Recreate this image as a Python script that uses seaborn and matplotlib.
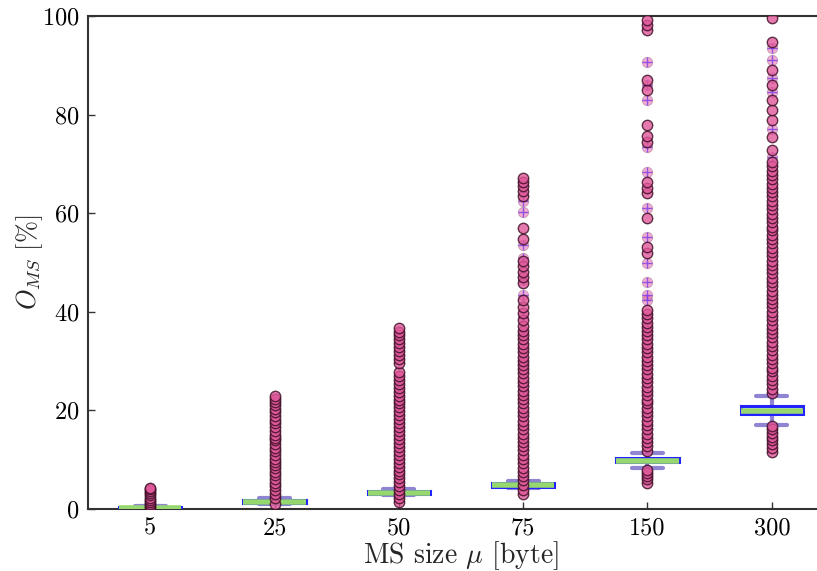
import matplotlib
matplotlib.use("Agg")
import matplotlib.pyplot as plt
import seaborn as sns
import pandas as pd

# ---------------- data ----------------
sizes = ["5", "25", "50", "75", "150", "300"]

# box statistics per size: lower whisker, Q1, median, Q3, upper whisker
box_5 = [0.05, 0.2, 0.3, 0.45, 0.6]
box_25 = [1.0, 1.3, 1.5, 1.8, 2.2]
box_50 = [2.8, 3.0, 3.2, 3.6, 4.0]
box_75 = [4.3, 4.5, 4.8, 5.3, 5.7]
box_150 = [8.3, 9.5, 9.8, 10.4, 11.4]
box_300 = [17.0, 19.2, 19.9, 20.9, 23.0]

# outliers, solid markers
fl_5 = [0.2, 0.6, 1.0, 1.5, 1.9, 2.3, 2.8, 3.2, 3.6, 4.0, 4.3]
fl_25 = [1.0, 2.3, 3.0, 3.9, 4.6, 5.3, 6.0, 6.8, 7.5, 8.3, 9.0, 9.5, 10.2,
         11.0, 11.8, 12.4, 13.2, 14.0, 14.4, 15.1, 15.9, 16.6, 17.4, 18.1,
         18.9, 19.6, 20.3, 21.0, 21.7, 22.3, 22.9]
fl_50 = [1.5, 2.2, 3.0, 3.8, 4.6, 5.4, 6.2, 7.0, 7.8, 8.6, 9.4, 10.2, 11.0,
         11.8, 12.6, 13.4, 14.2, 15.0, 15.8, 16.6, 17.4, 18.2, 19.0, 19.8,
         20.6, 21.4, 22.2, 23.0, 23.8, 24.6, 25.4, 26.2, 27.0, 27.8, 29.6,
         30.4, 31.2, 32.0, 32.8, 33.6, 34.4, 35.2, 36.0, 36.7]
fl_75 = [3.0, 3.9, 4.8, 5.8, 6.7, 7.5, 8.4, 9.3, 10.1, 11.0, 11.9, 12.7,
         13.6, 14.5, 15.3, 16.2, 17.1, 17.9, 18.8, 19.7, 20.5, 21.4, 22.3,
         23.1, 24.0, 24.9, 25.7, 26.6, 27.5, 28.3, 29.2, 30.1, 30.9, 31.8,
         32.7, 33.5, 34.4, 35.3, 36.2, 37.2, 38.3, 39.8, 41.0, 42.4, 45.8,
         47.0, 48.1, 49.3, 50.4, 54.8, 57.0, 63.5, 64.6, 65.6, 66.4, 67.1]
fl_150 = [5.3, 6.0, 6.7, 7.4, 8.0, 11.8, 12.7, 13.6, 14.4, 15.3, 16.2, 17.0,
          17.9, 18.8, 19.6, 20.5, 21.4, 22.2, 23.1, 24.0, 24.8, 25.7, 26.6,
          27.4, 28.3, 29.2, 30.0, 30.9, 31.8, 32.6, 33.5, 34.4, 35.2, 36.1,
          37.0, 37.8, 38.7, 39.6, 40.4, 51.9, 53.1, 59.0, 64.1, 65.2, 66.3,
          74.5, 75.6, 77.9, 85.0, 87.0, 97.2, 98.2, 99.2]
fl_300 = [11.5, 12.3, 13.1, 13.9, 14.7, 15.5, 16.3, 16.8, 23.5, 24.4, 25.3,
          26.1, 27.0, 27.9, 28.7, 29.6, 30.5, 31.3, 32.2, 33.1, 33.9, 34.8,
          35.7, 36.5, 37.4, 38.3, 39.1, 40.0, 40.9, 41.7, 42.6, 43.5, 44.3,
          45.2, 46.1, 46.9, 47.8, 48.7, 49.5, 50.4, 51.3, 52.1, 53.0, 53.9,
          54.7, 55.6, 56.5, 57.3, 58.2, 59.1, 59.9, 60.8, 61.7, 62.5, 63.4,
          64.3, 65.1, 66.0, 66.9, 67.7, 68.6, 69.5, 70.3, 72.8, 75.5, 79.0,
          81.0, 83.0, 86.0, 89.0, 94.7, 99.6]

# outliers, faint markers with cross
fx_5 = []
fx_25 = []
fx_50 = []
fx_75 = [24.1, 29.6, 35.7, 39.0, 43.5, 46.5, 50.9, 53.5, 60.2, 62.5]
fx_150 = [42.4, 43.4, 46.0, 49.9, 55.2, 61.0, 68.4, 73.4, 83.0, 86.0, 90.7]
fx_300 = [71.5, 77.0, 84.5, 87.5, 91.0, 93.5]

box_vals = [box_5, box_25, box_50, box_75, box_150, box_300]
fl_vals = [fl_5, fl_25, fl_50, fl_75, fl_150, fl_300]
fx_vals = [fx_5, fx_25, fx_50, fx_75, fx_150, fx_300]


def long_frame(groups):
    rows = [(s, v) for s, vals in zip(sizes, groups) for v in vals]
    return pd.DataFrame(rows, columns=["size", "value"])


box_df = long_frame(box_vals)
fl_df = long_frame(fl_vals)
fx_df = long_frame(fx_vals)

# ---------------- style ----------------
sns.set_style("white")
plt.rcParams["font.family"] = ["cmr10", "DejaVu Serif"]
plt.rcParams["mathtext.fontset"] = "cm"
plt.rcParams["axes.formatter.use_mathtext"] = True
plt.rcParams["axes.unicode_minus"] = False

fig = plt.figure(figsize=(8.17, 5.71), dpi=100)
ax = fig.add_axes([88 / 817, 1 - 509 / 571, (834 - 88) / 817, (509 - 16) / 571])

sns.boxplot(data=box_df, x="size", y="value", order=sizes, width=0.5,
            whis=(0, 100), showfliers=False, ax=ax,
            boxprops=dict(facecolor="white", edgecolor="#2323ff", linewidth=2.2, zorder=3),
            medianprops=dict(color="#96d86f", linewidth=4, zorder=4),
            whiskerprops=dict(color="#6a5cc4", linewidth=3, alpha=0.75, zorder=2),
            capprops=dict(color="#6a5cc4", linewidth=3, alpha=0.75, zorder=2))

sns.stripplot(data=fx_df, x="size", y="value", order=sizes, jitter=False,
              color="#e86aa8", alpha=0.55, size=7.5, linewidth=0.6,
              edgecolor="#9a6a90", ax=ax, zorder=5)
sns.stripplot(data=fx_df, x="size", y="value", order=sizes, jitter=False,
              color="#7a3ce8", marker="+", size=7.5, linewidth=1.0,
              alpha=0.8, ax=ax, zorder=6)
sns.stripplot(data=fl_df, x="size", y="value", order=sizes, jitter=False,
              color="#e0589a", alpha=0.8, size=7.5, linewidth=1.0,
              edgecolor="#3a0c22", ax=ax, zorder=7)

ax.set_xlim(-0.5, 5.5)
ax.set_ylim(0, 100)
ax.set_yticks([0, 20, 40, 60, 80, 100])
ax.set_xticks(range(len(sizes)))
ax.set_xticklabels(sizes)

for side in ["left", "bottom", "top", "right"]:
    ax.spines[side].set_color("#333333")
    ax.spines[side].set_linewidth(1.5)
ax.tick_params(axis="both", direction="in", length=5, width=1,
               colors="#333333", labelcolor="black", labelsize=17.5,
               bottom=True, left=True, pad=6)

ax.set_xlabel(r"MS size $\mu$ [byte]", fontsize=20, labelpad=0)
ax.set_ylabel(r"$O_{MS}$ [%]", fontsize=19)
ax.yaxis.set_label_coords(-0.058, 0.5)

fig.savefig("out.png", dpi=100)
